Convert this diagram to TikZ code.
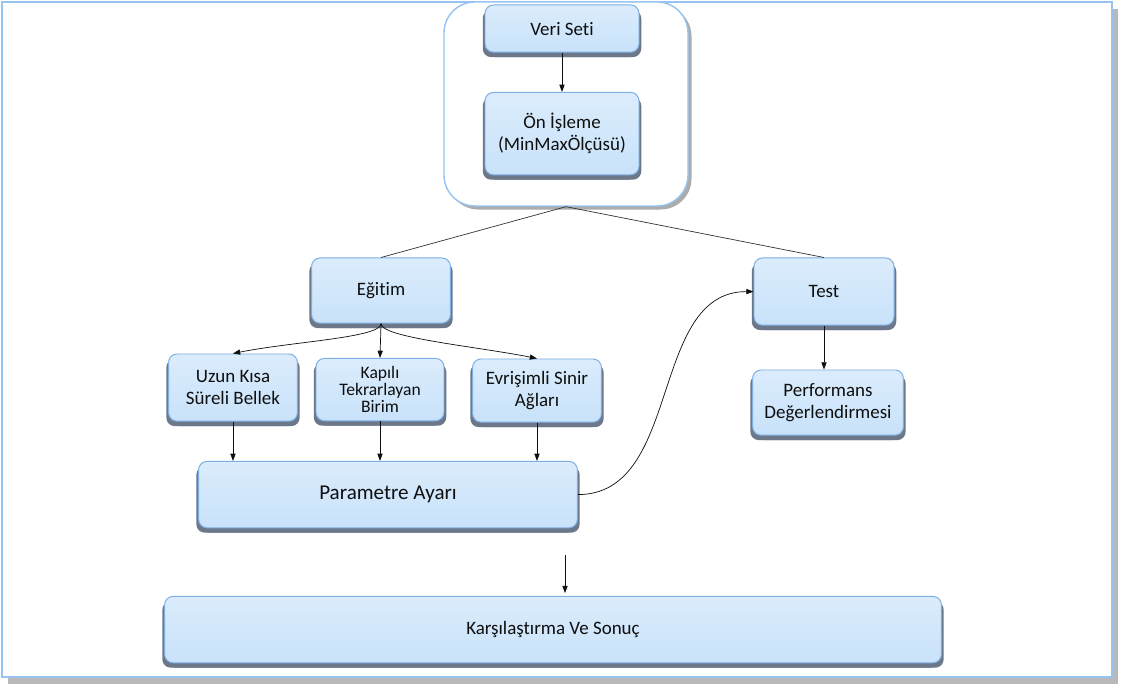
\documentclass[tikz,border=0pt]{standalone}
\usepackage{fontspec}
\setmainfont{Carlito}[Ligatures={CommonOff,ContextualOff}]
\usetikzlibrary{arrows.meta,positioning,shadows,calc}
\definecolor{pale}{RGB}{200,226,250}
\definecolor{rim}{RGB}{125,175,228}
\definecolor{bevel}{RGB}{108,120,138}
\definecolor{frame}{RGB}{150,195,240}
\definecolor{ink}{RGB}{15,15,15}
\tikzset{
  >={Triangle[length=1.8mm,width=1.3mm]},
  stage/.style={draw=rim,top color=pale!65!white,bottom color=pale,rounded corners=6pt,
    line width=0.7pt,align=center,text=ink,inner sep=2pt,
    font=\fontsize{13.5}{16}\selectfont,
    drop shadow={shadow xshift=1.6pt,shadow yshift=-3.5pt,fill=bevel,opacity=1},
    drop shadow={shadow xshift=-1.6pt,shadow yshift=-3.5pt,fill=bevel,opacity=1}},
  holder/.style={draw=frame,fill=white,rounded corners=22pt,line width=1pt,
    drop shadow={shadow xshift=2.5pt,shadow yshift=-2.5pt,fill=gray!65,opacity=1}},
  link/.style={->,draw=ink,line width=0.5pt},
  wire/.style={draw=ink!85,line width=0.5pt},
}
\begin{document}
\begin{tikzpicture}
  \useasboundingbox (0,0) rectangle (28.05,17.15);
  % page frame
  \fill[gray!55] (0.2,0.05) rectangle (27.95,16.93);
  \draw[frame,fill=white,line width=0.8pt] (0.05,0.225) rectangle (27.8,17.1);

  \node[holder,minimum width=6.1cm,minimum height=5.1cm] (prep) at (14.15,14.55) {};
  \node[stage,minimum width=3.85cm,minimum height=1.18cm] (veri) at (14.05,16.435) {Veri Seti};
  \node[stage,minimum width=3.85cm,minimum height=2.06cm] (onis) at (14.05,13.81) {Ön İşleme\\(MinMaxÖlçüsü)};
  \node[stage,minimum width=3.47cm,minimum height=1.63cm] (egit) at (9.525,9.885) {Eğitim};
  \node[stage,minimum width=3.5cm,minimum height=1.68cm] (test) at (20.6,9.86) {Test};
  \node[stage,minimum width=3.77cm,minimum height=1.63cm] (perf) at (20.7,7.085) {Performans\\Değerlendirmesi};
  \node[stage,minimum width=3.22cm,minimum height=1.68cm] (lstm) at (5.825,7.46) {Uzun Kısa\\Süreli Bellek};
  \node[stage,minimum width=3.2cm,minimum height=1.56cm,font=\fontsize{12.5}{12}\selectfont] (gru) at (9.5,7.41) {Kapılı\\Tekrarlayan\\Birim};
  \node[stage,minimum width=3.22cm,minimum height=1.58cm] (cnn) at (13.425,7.385) {Evrişimli Sinir\\Ağları};
  \node[stage,minimum width=9.47cm,minimum height=1.66cm,font=\fontsize{15}{18}\selectfont] (param) at (9.7,4.785) {Parametre Ayarı};
  \node[stage,minimum width=19.42cm,minimum height=1.66cm] (sonuc) at (13.825,1.41) {Karşılaştırma Ve Sonuç};
  \coordinate (drop) at (14.125,3.275);

  \draw[link] (veri) -- (onis);
  \draw[wire] (prep.south) -- (egit.north);
  \draw[wire] (prep.south) -- (test.north);
  \draw[link] (egit.south) .. controls +(0,-0.35) and +(1.5,0.3) .. (lstm.north);
  \draw[link] (egit.south) -- (gru.north);
  \draw[link] (egit.south) .. controls +(0,-0.35) and +(-1.5,0.3) .. (cnn.north);
  \draw[link] (lstm.south) -- (lstm.south |- param.north);
  \draw[link] (gru.south) -- (gru.south |- param.north);
  \draw[link] (cnn.south) -- (cnn.south |- param.north);
  \draw[link] (param.east) to[out=0,in=180] (test.west);
  \draw[link] (test.south) -- (test.south |- perf.north);
  \draw[link,shorten >=2pt] (drop) -- (drop |- sonuc.north);
\end{tikzpicture}
\end{document}
